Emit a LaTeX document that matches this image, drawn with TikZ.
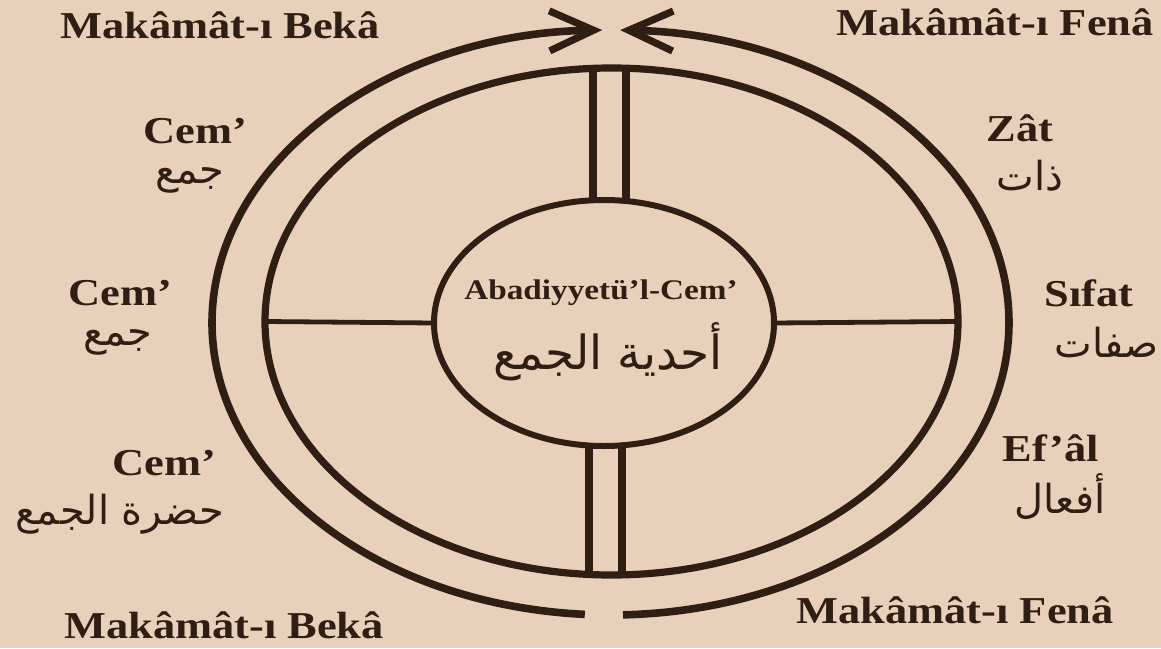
\documentclass[tikz,border=0pt]{standalone}
\usepackage{fontspec}
\setmainfont{Liberation Serif}[FakeStretch=1.17]
\newfontfamily\arabicfont[Script=Arabic]{DejaVu Sans}
\TeXXeTstate=1
\usetikzlibrary{shapes.geometric,arrows.meta,calc}
\definecolor{paper}{RGB}{233,208,186}
\definecolor{ink}{RGB}{48,30,20}
\begin{document}
\begin{tikzpicture}[x=0.5pt,y=-0.5pt,
  lbl/.style={font=\bfseries\fontsize{19}{22}\selectfont, text=ink, inner sep=0pt},
  corelbl/.style={font=\bfseries\fontsize{14.2}{18}\selectfont, text=ink, inner sep=0pt},
  arab/.style={font=\arabicfont\fontsize{20}{24}\selectfont, text=ink, inner sep=0pt},
  corearab/.style={font=\arabicfont\fontsize{23.5}{28}\selectfont, text=ink, inner sep=0pt},
  ring/.style={draw=ink, ellipse, inner sep=0pt, outer sep=0pt},
  spoke/.style={draw=ink, line width=3.8pt},
  bar/.style={draw=ink, line width=2.4pt},
  outerarc/.style={draw=ink, line width=3.8pt, -{Straight Barb[length=22pt,width=20pt,line width=3.6pt]}},
]
\fill[paper] (0,0) rectangle (1161,648);
\useasboundingbox (0,0) rectangle (1161,648);

% rings
\node[ring, line width=3.6pt, minimum width=346.5pt, minimum height=253.5pt] (inner) at (611.5,321.5) {};
\node[ring, line width=3pt, minimum width=170pt, minimum height=123pt] (core) at (604,323) {};

% outer ring with arrows
\coordinate (C) at (610.5,322.5);
\coordinate (bl) at ($(C)+(266.3:199.25pt and 146.25pt)$);
\coordinate (br) at ($(C)+(271.8:199.25pt and 146.25pt)$);
\draw[outerarc] (bl) arc[start angle=266.3, end angle=91.2, x radius=199.25pt, y radius=146.25pt];
\draw[outerarc] (br) arc[start angle=271.8, end angle=448.6, x radius=199.25pt, y radius=146.25pt];

% double spokes
\coordinate (t1) at ($(inner.north)+(-18.5,0)$);
\coordinate (t2) at ($(inner.north)+(14.5,0)$);
\coordinate (b1) at ($(inner.south)+(-22.5,0)$);
\coordinate (b2) at ($(inner.south)+(10.5,0)$);
\draw[spoke] (t1) -- (t1 |- core.north);
\draw[spoke] (t2) -- (t2 |- core.north);
\draw[spoke] (b1) -- (b1 |- core.south);
\draw[spoke] (b2) -- (b2 |- core.south);

% horizontal bars
\draw[bar] (inner.west) -- (core.west);
\draw[bar] (core.east) -- (inner.east);

% center text
\node[corelbl] (coreLat) at (601,293) {Abadiyyetü’l-Cem’};
\node[corearab] (coreAr) at (608,352) {\beginR أحدية الجمع\endR};

% corner labels
\node[lbl] (bekaTop) at (220,25) {Makâmât-ı Bekâ};
\node[lbl] (fenaTop) at (995,22) {Makâmât-ı Fenâ};
\node[lbl] (bekaBot) at (224,625) {Makâmât-ı Bekâ};
\node[lbl] (fenaBot) at (955,610) {Makâmât-ı Fenâ};

% left labels
\node[lbl] (cem1) at (195,131) {Cem’};
\node[arab] (cem1a) at (190,180) {\beginR جمع\endR};
\node[lbl] (cem2) at (120,293) {Cem’};
\node[arab] (cem2a) at (118,342) {\beginR جمع\endR};
\node[lbl] (cem3) at (164,463) {Cem’};
\node[arab] (cem3a) at (120,514) {\beginR حضرة الجمع\endR};

% right labels
\node[lbl] (zat) at (1020,128) {Zât};
\node[arab] (zata) at (1030,176) {\beginR ذات\endR};
\node[lbl] (sifat) at (1089,293) {Sıfat};
\node[arab, anchor=east] (sifata) at (1159,342) {\beginR صفات\endR};
\node[lbl] (efal) at (1051,448) {Ef’âl};
\node[arab] (efala) at (1060,497) {\beginR أفعال\endR};
\end{tikzpicture}
\end{document}
